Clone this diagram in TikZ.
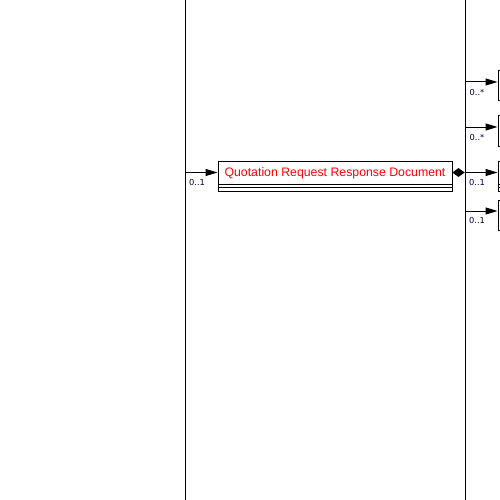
\documentclass[tikz,border=0pt]{standalone}
\usepackage{fontspec}
\setmainfont{Liberation Sans}
\newfontfamily\lblfont{DejaVu Sans}
\usetikzlibrary{arrows.meta,shapes.geometric,calc}
\begin{document}
\begin{tikzpicture}[x=1pt,y=-1pt,line width=1pt,
  classbox/.style={draw,rectangle,minimum width=234pt,minimum height=30pt,inner sep=0pt},
  sidebox/.style={draw,rectangle,minimum width=40pt,minimum height=30pt,inner sep=0pt},
  arr/.style={-{Triangle[length=12pt,width=7pt]}},
  mult/.style={font=\lblfont\fontsize{8.3}{9}\selectfont,text=black!80!blue,inner sep=0pt},
  ttl/.style={font=\fontsize{12.3}{14}\selectfont,text=red,inner sep=0pt},
  agg/.style={draw,fill,diamond,minimum width=11pt,minimum height=8pt,inner sep=0pt}]
\useasboundingbox (0,0) rectangle (500,500);
\clip (0,0) rectangle (500,500);
% vertical lines
\coordinate (lt) at (185,0);
\coordinate (lb) at (185,500);
\coordinate (rt) at (465,0);
\coordinate (rbm) at (465,500);
\draw (lt) -- (lb);
\draw (rt) -- (rbm);
% main box
\node[classbox] (main) at (335,176) {};
\node[ttl] (mt) at (335,173.3) {Quotation Request Response Document};
\draw ($(main.south west)+(0,-7.5)$) -- ($(main.south east)+(0,-7.5)$);
\draw ($(main.south west)+(0,-4)$) -- ($(main.south east)+(0,-4)$);
% side boxes
\node[sidebox] (b1) at (518,86) {};
\node[sidebox] (b2) at (518,131) {};
\node[sidebox] (b3) at (518,176) {};
\node[sidebox] (b4) at (518,215) {};
\draw ($(b3.south west)+(0,-7.5)$) -- ($(b3.south east)+(0,-7.5)$);
\draw ($(b3.south west)+(0,-4)$) -- ($(b3.south east)+(0,-4)$);
% left connector
\coordinate (lc) at (185,172.5);
\draw[arr] (lc) -- (main.west |- lc);
\node[mult] (m0) at (197,182.5) {0..1};
% aggregation
\node[agg] (dm) at (458.5,172.5) {};
\draw[arr] (dm.east) -- (b3.west |- dm.east);
\coordinate (c1) at (465,82);
\coordinate (c2) at (465,127);
\coordinate (c4) at (465,211);
\draw[arr] (c1) -- (b1.west |- c1);
\draw[arr] (c2) -- (b2.west |- c2);
\draw[arr] (c4) -- (b4.west |- c4);
\node[mult] (m1) at (477,92.5) {0..*};
\node[mult] (m2) at (477,137.5) {0..*};
\node[mult] (m3) at (477,182.5) {0..1};
\node[mult] (m4) at (477,220.5) {0..1};
\end{tikzpicture}
\end{document}
